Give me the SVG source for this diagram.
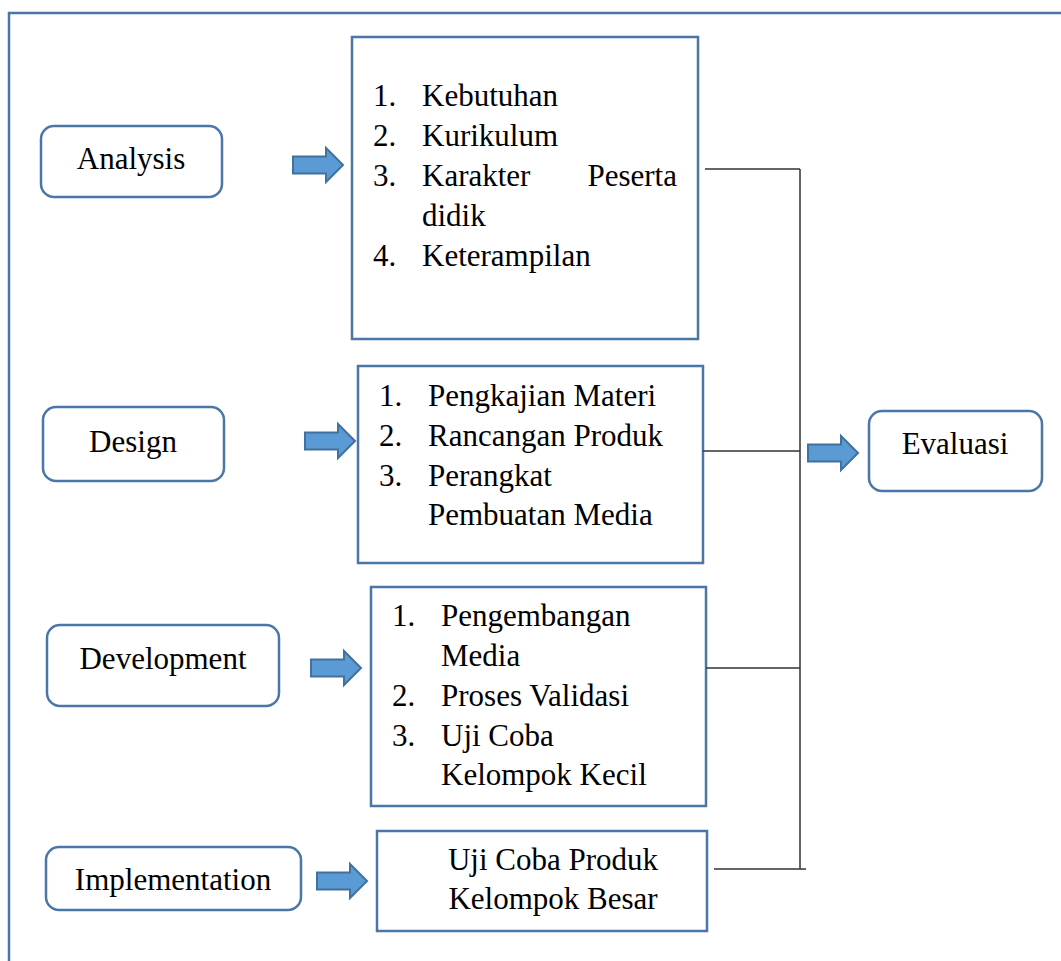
<svg xmlns="http://www.w3.org/2000/svg" width="1061" height="961" viewBox="0 0 1061 961">
<style>
.frame{fill:none;stroke:#4A76A8;stroke-width:2.5}
.box{fill:#fff;stroke:#4A76A8;stroke-width:2.5}
text{font-family:'Liberation Serif','Times New Roman',serif;font-size:31px;fill:#000}
.c{text-anchor:middle}
.e{text-anchor:end}
.arr{fill:#5B9BD5;stroke:#41719C;stroke-width:2}
.con{fill:none;stroke:#333;stroke-width:1.5}
</style>
<defs>
<path id="arrow" class="arr" d="M0,-8.5 H33 V-17 L50,0 L33,17 V8.5 H0 Z"/>
</defs>
<rect class="frame" x="9" y="13" width="1070" height="970"/>
<g id="analysis">
<rect class="box" x="41" y="126" width="181" height="71" rx="13"/>
<text class="c" x="131" y="169">Analysis</text>
</g>
<g id="design">
<rect class="box" x="43" y="407" width="181" height="74" rx="13"/>
<text class="c" x="133" y="452">Design</text>
</g>
<g id="development">
<rect class="box" x="47" y="625" width="232" height="81" rx="13"/>
<text class="c" x="163" y="669">Development</text>
</g>
<g id="implementation">
<rect class="box" x="46" y="847" width="255" height="63" rx="13"/>
<text class="c" x="173" y="890">Implementation</text>
</g>
<g id="evaluasi">
<rect class="box" x="869" y="411" width="173" height="80" rx="13"/>
<text class="c" x="955" y="454">Evaluasi</text>
</g>
<g id="analysis-list">
<rect class="box" x="352" y="37" width="346" height="302"/>
<text x="373" y="106">1.</text><text x="422" y="106">Kebutuhan</text>
<text x="373" y="146">2.</text><text x="422" y="146">Kurikulum</text>
<text x="373" y="186">3.</text><text x="422" y="186">Karakter</text><text class="e" x="677" y="186">Peserta</text>
<text x="422" y="226">didik</text>
<text x="373" y="266">4.</text><text x="422" y="266">Keterampilan</text>
</g>
<g id="design-list">
<rect class="box" x="358" y="366" width="345" height="197"/>
<text x="379" y="406">1.</text><text x="428" y="406">Pengkajian Materi</text>
<text x="379" y="446">2.</text><text x="428" y="446">Rancangan Produk</text>
<text x="379" y="486">3.</text><text x="428" y="486">Perangkat</text>
<text x="428" y="525">Pembuatan Media</text>
</g>
<g id="development-list">
<rect class="box" x="371" y="587" width="335" height="219"/>
<text x="392" y="626">1.</text><text x="441" y="626">Pengembangan</text>
<text x="441" y="666">Media</text>
<text x="392" y="706">2.</text><text x="441" y="706">Proses Validasi</text>
<text x="392" y="746">3.</text><text x="441" y="746">Uji Coba</text>
<text x="441" y="785">Kelompok Kecil</text>
</g>
<g id="implementation-box">
<rect class="box" x="377" y="831" width="330" height="100"/>
<text class="c" x="553" y="870">Uji Coba Produk</text>
<text class="c" x="553" y="909">Kelompok Besar</text>
</g>
<g id="connectors">
<use href="#arrow" transform="translate(293,165)"/>
<use href="#arrow" transform="translate(305,441)"/>
<use href="#arrow" transform="translate(311,668)"/>
<use href="#arrow" transform="translate(317,881)"/>
<use href="#arrow" transform="translate(808,453)"/>
<path class="con" d="M705,169 H800 M703,451 H800 M706,668 H800 M714,869 H806 M800,169 V869"/>
</g>
</svg>
